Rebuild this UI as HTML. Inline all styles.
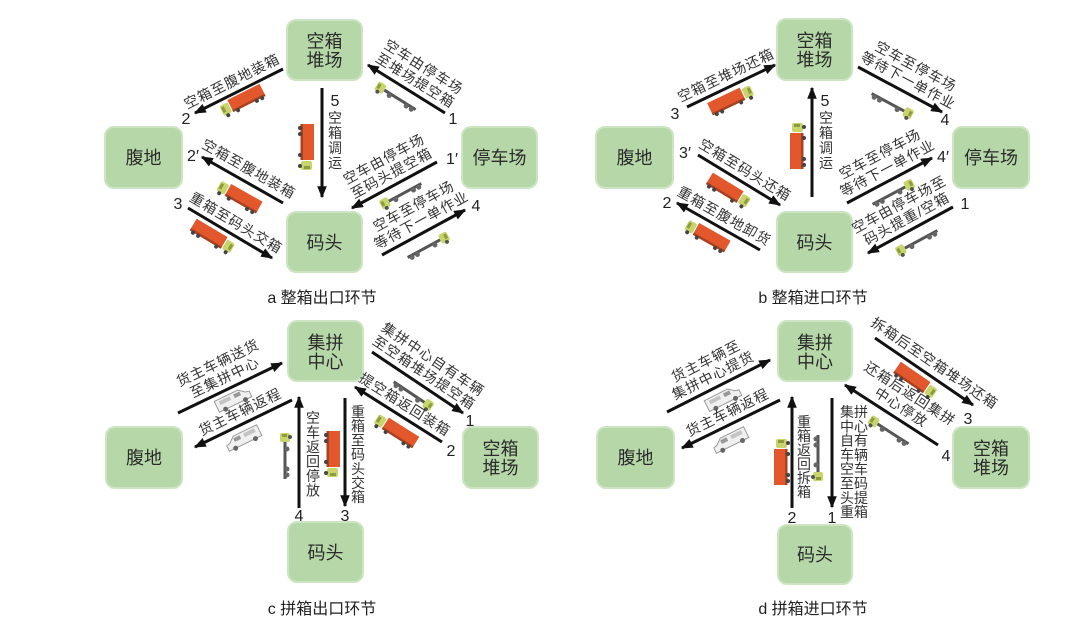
<!DOCTYPE html>
<html><head><meta charset="utf-8">
<style>
html,body{margin:0;padding:0;background:#fff;}
svg{display:block;font-family:"Liberation Sans","Noto Sans CJK SC",sans-serif;}
.bx{fill:#b6d8a8;stroke:#cde5c3;stroke-width:2;}
.bt{font-size:18px;fill:#2b2b2b;text-anchor:middle;}
.lb{font-size:14px;fill:#333;text-anchor:middle;letter-spacing:1px;}
.vt{font-size:14px;fill:#333;text-anchor:middle;}
.num{font-size:16px;fill:#222;text-anchor:middle;}
.cap{font-size:16px;fill:#222;text-anchor:middle;}
.ln{stroke:#111;stroke-width:3;fill:none;marker-end:url(#ah);}
</style></head>
<body>
<svg width="1080" height="625" viewBox="0 0 1080 625" xmlns="http://www.w3.org/2000/svg">
<defs>
<marker id="ah" viewBox="0 0 10 8" refX="9" refY="4" markerWidth="4" markerHeight="3.2" orient="auto" markerUnits="strokeWidth">
<path d="M0,0 L10,4 L0,8 z" fill="#111"/>
</marker>
<g id="truck">
<rect x="-22" y="-7" width="36" height="13" fill="#e2582c"/>
<rect x="-22" y="4" width="36" height="2.5" fill="#a9401f"/>
<circle cx="-18" cy="7" r="2" fill="#444"/>
<circle cx="-12" cy="7" r="2" fill="#444"/>
<circle cx="9" cy="7" r="2" fill="#444"/>
<rect x="15" y="-5" width="9" height="11" rx="2" fill="#c9d56c"/>
<rect x="20" y="-3" width="3" height="6" fill="#8e9c40"/>
<circle cx="20" cy="7" r="2" fill="#444"/>
</g>
<g id="chassis">
<rect x="-22" y="-1.5" width="37" height="3" fill="#555"/>
<circle cx="-18" cy="2" r="2.5" fill="#666"/>
<circle cx="-12" cy="2" r="2.5" fill="#666"/>
<circle cx="8" cy="2" r="2.5" fill="#666"/>
<rect x="15" y="-5" width="9" height="10" rx="2" fill="#c9d56c"/>
<rect x="20" y="-3" width="3" height="5" fill="#8e9c40"/>
<circle cx="20" cy="5" r="2" fill="#555"/>
</g>
<g id="van">
<path d="M-18,-6 L8,-6 L14,-1 L18,0 L18,6 L-18,6 Z" fill="#f0f0f0" stroke="#9a9a9a" stroke-width="1"/>
<rect x="2" y="-4" width="7" height="4" fill="#999"/>
<rect x="-14" y="-4" width="12" height="4" fill="#c4c4c4"/>
<circle cx="-11" cy="6" r="2.5" fill="#666"/>
<circle cx="11" cy="6" r="2.5" fill="#666"/>
</g>
</defs>

<!-- ================= PANEL A ================= -->
<rect class="bx" x="287" y="20" width="75" height="60" rx="9"/>
<text class="bt" x="324.5" y="47.5">空箱</text><text class="bt" x="324.5" y="66.5">堆场</text>
<rect class="bx" x="105" y="127" width="77" height="61" rx="9"/>
<text class="bt" x="143.5" y="164">腹地</text>
<rect class="bx" x="462" y="127" width="75" height="61" rx="9"/>
<text class="bt" x="499.5" y="164">停车场</text>
<rect class="bx" x="287" y="212" width="75" height="60" rx="9"/>
<text class="bt" x="324.5" y="249">码头</text>

<line class="ln" x1="283" y1="69" x2="195" y2="113"/>
<text class="num" x="186" y="124">2</text>
<g transform="translate(239,91) rotate(-26.6)"><text class="lb" x="-2" y="-7">空箱至腹地装箱</text></g>
<use href="#truck" transform="translate(243,100) rotate(-26.6) scale(-1,1)"/>

<line class="ln" x1="445" y1="113" x2="368" y2="65"/>
<text class="num" x="453" y="124">1</text>
<g transform="translate(406.5,89) rotate(32)"><text class="lb" x="3" y="-23">空车由停车场</text><text class="lb" x="3" y="-7">至堆场提空箱</text></g>
<use href="#chassis" transform="translate(397,98) rotate(32) scale(-1,1)"/>

<line class="ln" x1="322" y1="88" x2="322" y2="197"/>
<text class="num" x="335" y="106">5</text>
<text class="vt" x="335" y="123">空</text><text class="vt" x="335" y="138">箱</text><text class="vt" x="335" y="153">调</text><text class="vt" x="335" y="168">运</text>
<use href="#truck" transform="translate(307,146) rotate(90)"/>

<line class="ln" x1="283" y1="203" x2="202" y2="157"/>
<text class="num" x="193" y="161">2′</text>
<g transform="translate(242.5,180) rotate(29.6)"><text class="lb" x="0" y="-8">空箱至腹地装箱</text></g>
<use href="#truck" transform="translate(240,197) rotate(29.6) scale(-1,1)"/>

<line class="ln" x1="188" y1="208" x2="272" y2="258"/>
<text class="num" x="178" y="209">3</text>
<g transform="translate(230,233) rotate(30.8)"><text class="lb" x="0" y="-7">重箱至码头交箱</text></g>
<use href="#truck" transform="translate(212,236) rotate(30.8)"/>

<line class="ln" x1="437" y1="162" x2="352" y2="208"/>
<text class="num" x="452" y="164">1′</text>
<g transform="translate(394.5,185) rotate(-28.4)"><text class="lb" x="3" y="-23">空车由停车场</text><text class="lb" x="3" y="-7">至码头提空箱</text></g>
<use href="#chassis" transform="translate(402,194) rotate(-28.4) scale(-1,1)"/>

<line class="ln" x1="382" y1="255" x2="465" y2="210"/>
<text class="num" x="476" y="211">4</text>
<g transform="translate(423.5,232.5) rotate(-28.5)"><text class="lb" x="4" y="-23">空车至停车场</text><text class="lb" x="4" y="-7">等待下一单作业</text></g>
<use href="#chassis" transform="translate(427,247) rotate(-28.5)"/>

<text class="cap" x="322" y="303">a 整箱出口环节</text>

<!-- ================= PANEL B ================= -->
<rect class="bx" x="777" y="19" width="75" height="61" rx="9"/>
<text class="bt" x="814.5" y="47">空箱</text><text class="bt" x="814.5" y="66">堆场</text>
<rect class="bx" x="596" y="127" width="77" height="61" rx="9"/>
<text class="bt" x="634.5" y="164">腹地</text>
<rect class="bx" x="953" y="127" width="76" height="61" rx="9"/>
<text class="bt" x="991" y="164">停车场</text>
<rect class="bx" x="777" y="212" width="75" height="60" rx="9"/>
<text class="bt" x="814.5" y="249">码头</text>

<line class="ln" x1="687" y1="107" x2="775" y2="65"/>
<text class="num" x="675" y="119">3</text>
<g transform="translate(731,86) rotate(-25.5)"><text class="lb" x="0" y="-7">空箱至堆场还箱</text></g>
<use href="#truck" transform="translate(730,100) rotate(-25.5)"/>

<line class="ln" x1="858" y1="67" x2="942" y2="112"/>
<text class="num" x="945" y="125">4</text>
<g transform="translate(900,89.5) rotate(28.2)"><text class="lb" x="3" y="-23">空车至停车场</text><text class="lb" x="3" y="-7">等待下一单作业</text></g>
<use href="#chassis" transform="translate(891,104) rotate(28.2)"/>

<line class="ln" x1="812" y1="197" x2="812" y2="88"/>
<text class="num" x="825" y="106">5</text>
<text class="vt" x="826" y="123">空</text><text class="vt" x="826" y="138">箱</text><text class="vt" x="826" y="153">调</text><text class="vt" x="826" y="168">运</text>
<use href="#truck" transform="translate(797,147) rotate(-90)"/>

<line class="ln" x1="698" y1="155" x2="780" y2="205"/>
<text class="num" x="685" y="158">3′</text>
<g transform="translate(739,180) rotate(31.4)"><text class="lb" x="0" y="-7">空箱至码头还箱</text></g>
<use href="#truck" transform="translate(728,190) rotate(31.4)"/>

<line class="ln" x1="760" y1="250" x2="677" y2="203"/>
<text class="num" x="667" y="208">2</text>
<g transform="translate(718.5,226.5) rotate(29.5)"><text class="lb" x="0" y="-7">重箱至腹地卸货</text></g>
<use href="#truck" transform="translate(708,236) rotate(29.5) scale(-1,1)"/>

<line class="ln" x1="847" y1="203" x2="932" y2="158"/>
<text class="num" x="943" y="162">4′</text>
<g transform="translate(889.5,180.5) rotate(-27.9)"><text class="lb" x="4" y="-23">空车至停车场</text><text class="lb" x="4" y="-7">等待下一单作业</text></g>
<use href="#chassis" transform="translate(892,194) rotate(-27.9)"/>

<line class="ln" x1="953" y1="207" x2="868" y2="253"/>
<text class="num" x="965" y="209">1</text>
<g transform="translate(910.5,230) rotate(-28.4)"><text class="lb" x="2" y="-23">空车由停车场至</text><text class="lb" x="2" y="-7">码头提重/空箱</text></g>
<use href="#chassis" transform="translate(918,241) rotate(-28.4) scale(-1,1)"/>

<text class="cap" x="813" y="303">b 整箱进口环节</text>

<!-- ================= PANEL C ================= -->
<rect class="bx" x="288" y="321" width="75" height="60" rx="9"/>
<text class="bt" x="325.5" y="349">集拼</text><text class="bt" x="325.5" y="368">中心</text>
<rect class="bx" x="106" y="427" width="76" height="61" rx="9"/>
<text class="bt" x="144" y="464">腹地</text>
<rect class="bx" x="463" y="427" width="75" height="61" rx="9"/>
<text class="bt" x="500.5" y="455">空箱</text><text class="bt" x="500.5" y="474">堆场</text>
<rect class="bx" x="288" y="522" width="75" height="60" rx="9"/>
<text class="bt" x="325.5" y="559">码头</text>

<line class="ln" x1="178" y1="413" x2="282" y2="363"/>
<g transform="translate(230,388) rotate(-25.7)"><text class="lb" x="0" y="-23">货主车辆送货</text><text class="lb" x="0" y="-7">至集拼中心</text></g>
<use href="#van" transform="translate(233,399) rotate(-25.7)"/>

<line class="ln" x1="292" y1="400" x2="195" y2="447"/>
<g transform="translate(243.5,423.5) rotate(-25.8)"><text class="lb" x="2" y="-7">货主车辆返程</text></g>
<use href="#van" transform="translate(243,438) rotate(-25.8) scale(-1,1)"/>

<line class="ln" x1="372" y1="352" x2="463" y2="413"/>
<text class="num" x="470" y="426">1</text>
<g transform="translate(417.5,382.5) rotate(33.8)"><text class="lb" x="0" y="-23">集拼中心自有车辆</text><text class="lb" x="0" y="-7">至空箱堆场提空箱</text></g>
<use href="#chassis" transform="translate(412,394) rotate(33.8)"/>

<line class="ln" x1="442" y1="442" x2="355" y2="387"/>
<text class="num" x="451" y="456">2</text>
<g transform="translate(398.5,414.5) rotate(32.3)"><text class="lb" x="0" y="-7">提空箱返回装箱</text></g>
<use href="#truck" transform="translate(397,431) rotate(32.3) scale(-1,1)"/>

<line class="ln" x1="299" y1="508" x2="299" y2="397"/>
<text class="num" x="299" y="521">4</text>
<text class="vt" x="313" y="423">空</text><text class="vt" x="313" y="437.5">车</text><text class="vt" x="313" y="452">返</text><text class="vt" x="313" y="466.5">回</text><text class="vt" x="313" y="481">停</text><text class="vt" x="313" y="495.5">放</text>
<use href="#chassis" transform="translate(285,457) rotate(-90)"/>

<line class="ln" x1="345" y1="398" x2="345" y2="506"/>
<text class="num" x="345" y="521">3</text>
<text class="vt" x="358" y="417">重</text><text class="vt" x="358" y="431.2">箱</text><text class="vt" x="358" y="445.4">至</text><text class="vt" x="358" y="459.6">码</text><text class="vt" x="358" y="473.8">头</text><text class="vt" x="358" y="488">交</text><text class="vt" x="358" y="502.2">箱</text>
<use href="#truck" transform="translate(333,453) rotate(90)"/>

<text class="cap" x="322" y="614">c 拼箱出口环节</text>

<!-- ================= PANEL D ================= -->
<rect class="bx" x="778" y="321" width="74" height="60" rx="9"/>
<text class="bt" x="815" y="349">集拼</text><text class="bt" x="815" y="368">中心</text>
<rect class="bx" x="597" y="427" width="77" height="61" rx="9"/>
<text class="bt" x="635.5" y="464">腹地</text>
<rect class="bx" x="953" y="427" width="76" height="61" rx="9"/>
<text class="bt" x="991" y="455">空箱</text><text class="bt" x="991" y="474">堆场</text>
<rect class="bx" x="778" y="525" width="74" height="59" rx="9"/>
<text class="bt" x="815" y="561">码头</text>

<line class="ln" x1="667" y1="412" x2="770" y2="360"/>
<g transform="translate(718.5,386) rotate(-26.8)"><text class="lb" x="0" y="-23">货主车辆至</text><text class="lb" x="0" y="-7">集拼中心提货</text></g>
<use href="#van" transform="translate(723,398) rotate(-26.8)"/>

<line class="ln" x1="780" y1="400" x2="682" y2="448"/>
<g transform="translate(731,424) rotate(-26.1)"><text class="lb" x="2" y="-7">货主车辆返程</text></g>
<use href="#van" transform="translate(730,440) rotate(-26.1) scale(-1,1)"/>

<line class="ln" x1="875" y1="338" x2="973" y2="405"/>
<text class="num" x="968" y="424">3</text>
<g transform="translate(924,371.5) rotate(34.4)"><text class="lb" x="4" y="-8">拆箱后至空箱堆场还箱</text></g>
<use href="#truck" transform="translate(915,380) rotate(34.4)"/>

<line class="ln" x1="938" y1="445" x2="845" y2="385"/>
<text class="num" x="946" y="461">4</text>
<g transform="translate(891.5,415) rotate(32.8)"><text class="lb" x="4" y="-23">还箱后返回集拼</text><text class="lb" x="4" y="-7">中心停放</text></g>
<use href="#chassis" transform="translate(890,432) rotate(32.8) scale(-1,1)"/>

<line class="ln" x1="792" y1="508" x2="792" y2="397"/>
<text class="num" x="792" y="523">2</text>
<text class="vt" x="804" y="427">重</text><text class="vt" x="804" y="441">箱</text><text class="vt" x="804" y="455">返</text><text class="vt" x="804" y="469">回</text><text class="vt" x="804" y="483">拆</text><text class="vt" x="804" y="497">箱</text>
<use href="#truck" transform="translate(781,463) rotate(-90)"/>

<line class="ln" x1="832" y1="398" x2="832" y2="507"/>
<text class="num" x="832" y="523">1</text>
<text class="vt" x="854" y="417">集拼</text>
<text class="vt" x="854" y="431.3">中心</text>
<text class="vt" x="854" y="445.6">自有</text>
<text class="vt" x="854" y="459.9">车辆</text>
<text class="vt" x="854" y="474.2">空车</text>
<text class="vt" x="854" y="488.5">至码</text>
<text class="vt" x="854" y="502.8">头提</text>
<text class="vt" x="854" y="517">重箱</text>
<use href="#chassis" transform="translate(818,457) rotate(90)"/>

<text class="cap" x="813" y="614">d 拼箱进口环节</text>
</svg>
</body></html>
